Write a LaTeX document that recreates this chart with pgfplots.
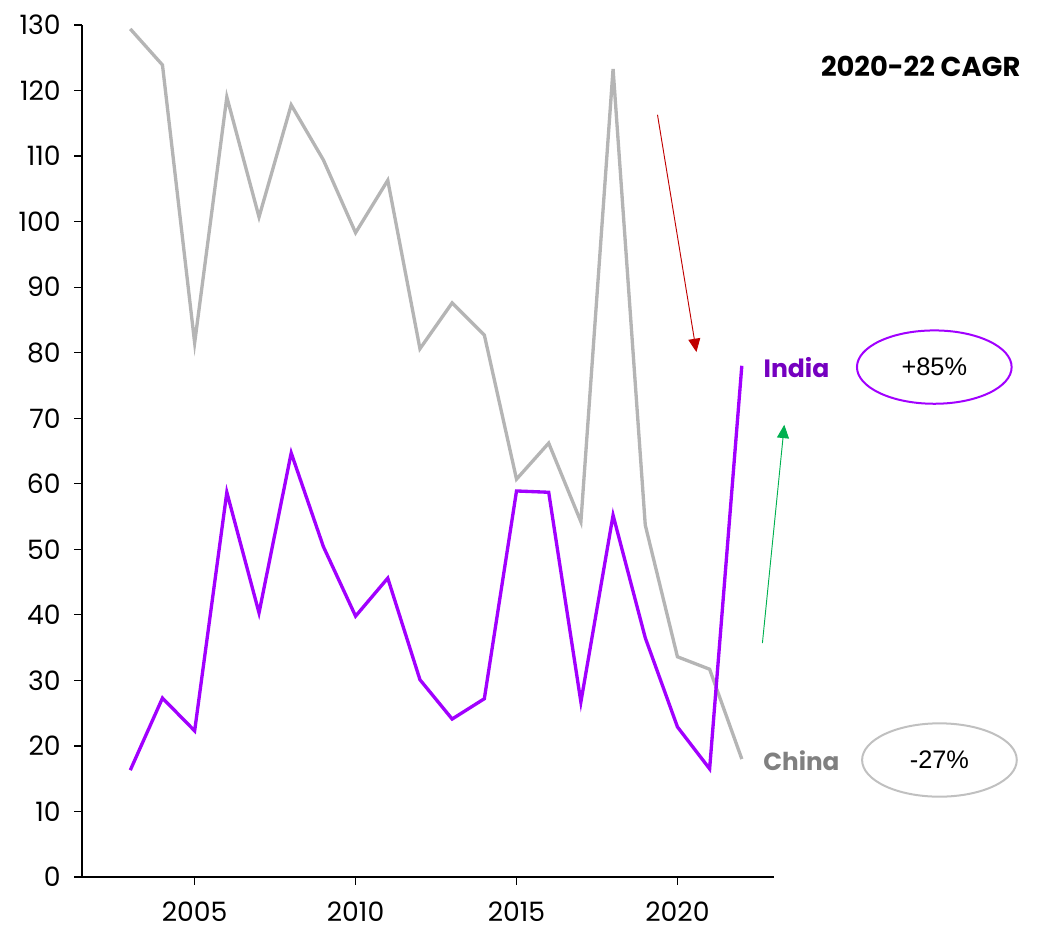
\documentclass[border=0pt]{standalone}
\usepackage{pgfplots}
\pgfplotsset{compat=1.18}
\usepackage{fontspec}
\setmainfont{Poppins}
\newfontfamily\lib{Liberation Sans}
\usetikzlibrary{arrows.meta}
\definecolor{indiaL}{HTML}{A100FF}
\definecolor{indiaT}{HTML}{7500C0}
\definecolor{chinaL}{HTML}{B5B5B5}
\definecolor{chinaT}{HTML}{808080}
\definecolor{redA}{HTML}{C00000}
\definecolor{greenA}{HTML}{00B050}
\begin{document}
\begin{tikzpicture}
\begin{axis}[
  scale only axis, width=519pt, height=639pt,
  xmin=2001.5, xmax=2023, ymin=0, ymax=130,
  axis x line*=bottom, axis y line*=left,
  axis line style={line width=0.9pt},
  xtick={2005,2010,2015,2020}, ytick={0,10,...,130},
  tick style={line width=0.9pt,black},
  tick align=outside, major tick length=6pt,
  xticklabel style={/pgf/number format/1000 sep={}, font=\fontsize{20}{23}\selectfont, yshift=-9pt},
  yticklabel style={font=\fontsize{20}{23}\selectfont, xshift=-6.5pt},
  /pgf/number format/assume math mode=true,
  clip=false,
]
\addplot[chinaL, line width=2.5pt] coordinates {
(2003,129.4)(2004,123.9)(2005,81.5)(2006,119.0)(2007,100.7)(2008,117.8)(2009,109.4)(2010,98.3)(2011,106.3)(2012,80.6)(2013,87.6)(2014,82.7)(2015,60.7)(2016,66.2)(2017,54.2)(2018,123.3)(2019,53.7)(2020,33.6)(2021,31.7)(2022,18.0)};
\addplot[indiaL, line width=2.5pt] coordinates {
(2003,16.3)(2004,27.3)(2005,22.3)(2006,58.7)(2007,40.3)(2008,64.7)(2009,50.4)(2010,39.8)(2011,45.6)(2012,30.1)(2013,24.1)(2014,27.2)(2015,58.9)(2016,58.7)(2017,26.7)(2018,55.2)(2019,36.5)(2020,22.9)(2021,16.5)(2022,78.0)};
\draw[redA, line width=0.7pt, -{Triangle[length=10pt,width=9pt]}] (axis cs:2019.38,116.3) -- (axis cs:2020.59,80.1);
\draw[greenA, line width=0.7pt, -{Triangle[length=10pt,width=9pt]}] (axis cs:2022.64,35.7) -- (axis cs:2023.32,69.0);
\node[font=\fontsize{18.8}{22}\bfseries\selectfont, text=indiaT] at (axis cs:2023.70,77.7) {India};
\node[font=\fontsize{18.5}{22}\bfseries\selectfont, text=chinaT] at (axis cs:2023.85,17.7) {China};
\draw[indiaL, line width=1.5pt] (axis cs:2027.98,77.8) ellipse [x radius=58pt, y radius=27.5pt];
\draw[chinaL!85, line width=1.5pt] (axis cs:2028.14,17.85) ellipse [x radius=58pt, y radius=27.5pt];
\node[font=\lib\fontsize{19}{22}\selectfont] at (axis cs:2027.98,77.8) {+85\%};
\node[font=\lib\fontsize{19}{22}\selectfont] at (axis cs:2028.14,17.85) {-27\%};
\node[font=\fontsize{20.5}{24}\bfseries\selectfont, anchor=east] at (axis cs:2030.80,123.7) {2020-22 CAGR};
\path[use as bounding box] ([shift={(-61.5pt,-39.75pt)}]rel axis cs:0,0) rectangle ([shift={(198pt,18.75pt)}]rel axis cs:1,1);
\end{axis}
\end{tikzpicture}
\end{document}
